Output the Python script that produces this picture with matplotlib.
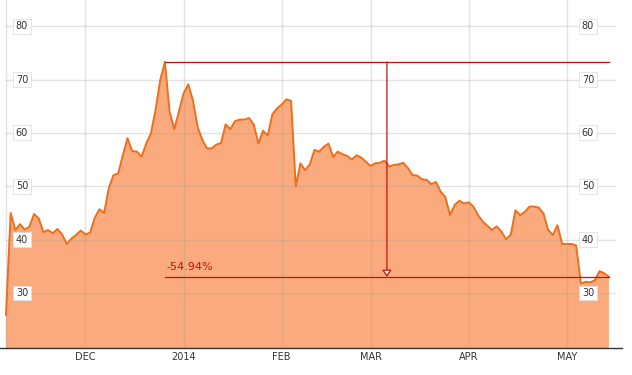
import matplotlib
matplotlib.use("Agg")
import matplotlib.pyplot as plt
from matplotlib.transforms import blended_transform_factory

# closing prices per trading day, grouped by month
nov = [25.9, 45.0, 41.8, 42.9, 41.9, 42.4, 44.8, 44.0, 41.4, 41.8, 41.2, 42.0,
       41.0, 39.2, 40.2, 40.9, 41.7]
dec = [41.0, 41.3, 44.1, 45.7, 45.0, 49.7, 52.1, 52.4, 55.8, 59.0, 56.6, 56.5,
       55.5, 58.0, 59.9, 64.3, 69.9, 73.31, 64.0, 60.7, 64.0]
jan = [67.4, 69.1, 66.1, 61.1, 58.7, 57.1, 57.1, 57.8, 58.1, 61.6, 60.7, 62.2,
       62.5, 62.5, 62.8, 61.6, 58.0, 60.4, 59.5, 63.5, 64.6]
feb = [65.3, 66.3, 66.0, 50.0, 54.3, 53.0, 54.1, 56.8, 56.5, 57.4, 58.0, 55.5,
       56.5, 56.0, 55.7, 55.0, 55.8, 55.4, 54.6]
mar = [53.8, 54.3, 54.4, 54.8, 53.7, 54.0, 54.1, 54.4, 53.4, 52.1, 52.0, 51.3,
       51.2, 50.4, 50.8, 49.0, 48.0, 44.6, 46.5, 47.3, 46.8]
apr = [47.0, 46.2, 44.6, 43.4, 42.6, 41.8, 42.5, 41.5, 40.1, 40.9, 45.5, 44.6,
       45.2, 46.2, 46.2, 46.0, 44.9, 41.8, 40.9, 42.7, 39.2]
may = [39.2, 39.2, 38.9, 31.8, 32.1, 32.0, 32.4, 34.1, 33.7, 33.03]

months = [nov, dec, jan, feb, mar, apr, may]
month_labels = ["DEC", "2014", "FEB", "MAR", "APR", "MAY"]
y_ticks = [30, 40, 50, 60, 70, 80]

prices = [v for m in months for v in m]
x = list(range(len(prices)))

# month boundaries (first trading day of each month)
starts = []
n = 0
for m in months[:-1]:
    n += len(m)
    starts.append(n)

fill_color = "#fbaa7d"
line_color = "#ec6f1c"
red = "#c0150f"

fig = plt.figure(figsize=(6.32, 3.75), dpi=100)
ax = fig.add_axes([0, 27 / 375, 622 / 632, 348 / 375])

ax.set_xlim(-1.28, 131.8)
ax.set_ylim(19.7, 84.9)

ax.fill_between(x, prices, 0, color=fill_color, lw=0, zorder=1)
ax.plot(x, prices, color=line_color, lw=1.4, zorder=3)

# grid
for xs in [0] + starts:
    ax.axvline(xs, color="#9a9a9a", alpha=0.28, lw=1, zorder=2)
for yt in y_ticks:
    ax.axhline(yt, xmin=6 / 622, xmax=615 / 622, color="#9a9a9a", alpha=0.28,
               lw=1, zorder=2)

# y labels on both sides, boxed
tr = blended_transform_factory(ax.transAxes, ax.transData)
box = dict(boxstyle="square,pad=0.25", fc="white", ec="#e0e0e0", lw=0.6)
for yt in y_ticks:
    for xf in (22 / 622, 588 / 622):
        ax.text(xf, yt, str(yt), transform=tr, ha="center", va="center",
                fontsize=7, color="#333333", bbox=box, zorder=6)

# x labels
ax.set_xticks(starts)
ax.set_xticklabels(month_labels, fontsize=7, color="#333333")
ax.tick_params(axis="x", length=0, pad=3)
ax.set_yticks([])

for s in ["top", "left", "right"]:
    ax.spines[s].set_visible(False)
ax.spines["bottom"].set_color("#333333")
ax.spines["bottom"].set_linewidth(1)

# peak to last drawdown annotation
i_peak = prices.index(max(prices))
i_last = len(prices) - 1
peak = prices[i_peak]
last = prices[i_last]
change = (last / peak - 1) * 100
ax.plot([i_peak, i_last], [peak, peak], color=red, lw=0.9, zorder=4)
ax.plot([i_peak, i_last], [last, last], color=red, lw=0.9, zorder=4)
mid = (i_peak + i_last) / 2
ax.annotate("", xy=(mid, last), xytext=(mid, peak), zorder=5,
            arrowprops=dict(arrowstyle="-|>,head_length=0.4,head_width=0.28",
                            color=red, fc="white", lw=0.9,
                            shrinkA=0, shrinkB=0))
ax.text(i_peak + 0.4, last + 0.9, "%.2f%%" % change, color=red, fontsize=8,
        ha="left", va="bottom", zorder=5)

fig.savefig("out.png", dpi=100)
